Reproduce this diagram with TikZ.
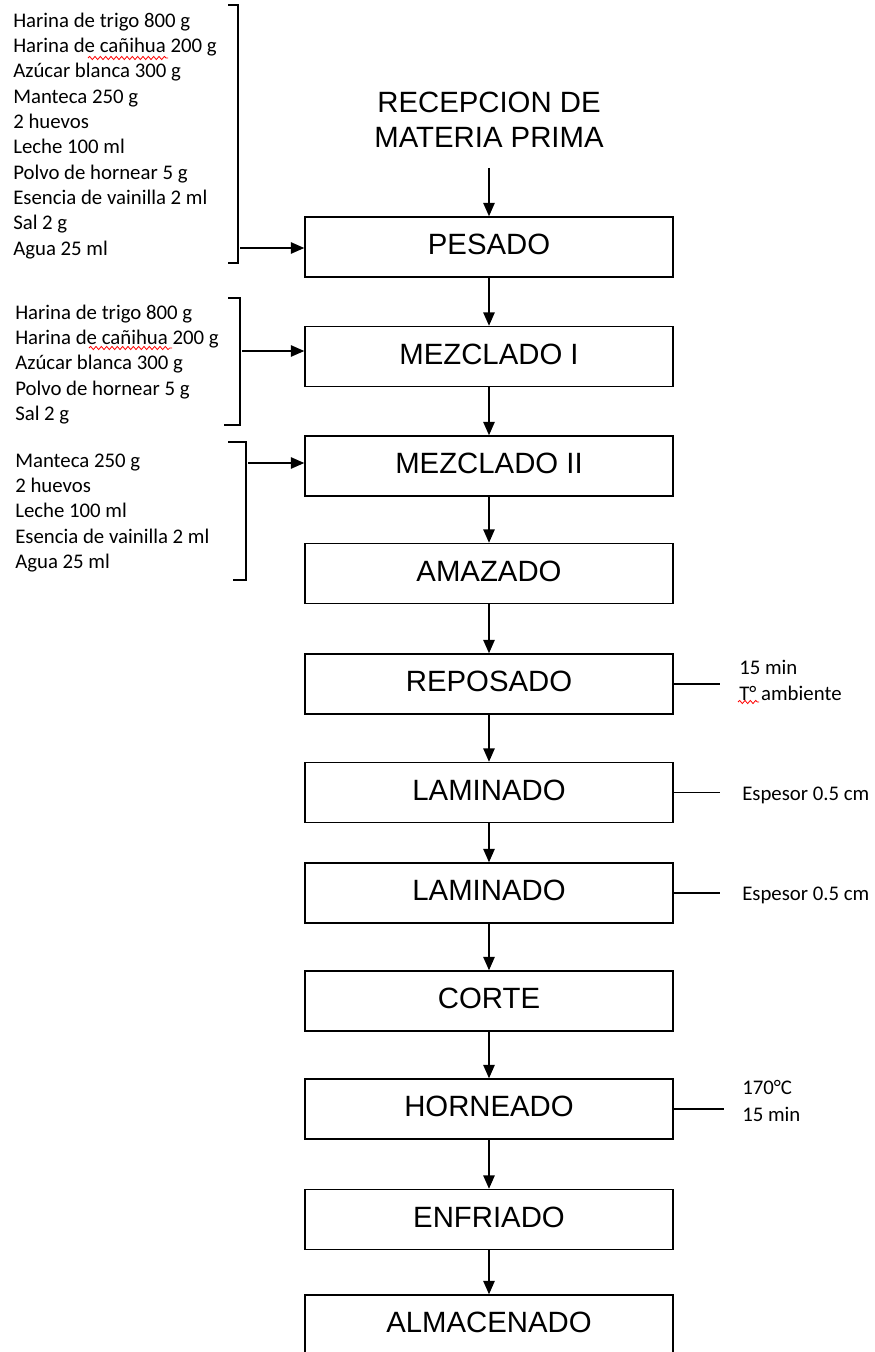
\documentclass[tikz,border=0pt]{standalone}
\usepackage{fontspec}
\setmainfont{Liberation Sans}
\newfontfamily\calibri{Carlito}
\usetikzlibrary{arrows.meta,decorations.pathmorphing}

\tikzset{
    lista/.style={anchor=north west,align=left,inner sep=0pt,font=\calibri\fontsize{15.6}{19}\selectfont},
    nota/.style={align=left,inner sep=0pt,font=\calibri\fontsize{15.6}{20}\selectfont},
    llave/.style={line width=0.8pt},
    corrector/.style={draw=red,line width=0.6pt,decorate,decoration={snake,amplitude=1.2pt,segment length=4pt}}
}

\begin{document}
\begin{tikzpicture}[x=0.75pt,y=-0.75pt]
    \useasboundingbox (0,0) rectangle (874,1352);

        \node[align=center,inner sep=0pt,font=\fontsize{22}{26}\selectfont] (0) at (489,120) {RECEPCION DE\\MATERIA PRIMA};

        \begin{scope}[every node/.style={draw,line width=1.1pt,minimum width=276pt,minimum height=45pt,inner sep=0pt,text depth=4pt,font=\fontsize{22}{26}\selectfont}]
            \node (1) at (489,247) {PESADO};
            \node (2) at (489,356.5) {MEZCLADO I};
            \node (3) at (489,466) {MEZCLADO II};
            \node (4) at (489,573.5) {AMAZADO};
            \node (5) at (489,684) {REPOSADO};
            \node (6) at (489,792.5) {LAMINADO};
            \node (7) at (489,893) {LAMINADO};
            \node (8) at (489,1001) {CORTE};
            \node (9) at (489,1109) {HORNEADO};
            \node (10) at (489,1219.5) {ENFRIADO};
            \node (11) at (489,1325) {ALMACENADO};
        \end{scope}

        % ingredientes
        \node[lista] (ing1) at (13,12.5) {Harina de trigo 800 g\\Harina de cañihua 200 g\\Azúcar blanca 300 g\\Manteca 250 g\\2 huevos\\Leche 100 ml\\Polvo de hornear 5 g\\Esencia de vainilla 2 ml\\Sal 2 g\\Agua 25 ml};
        \node[lista] (ing2) at (15,304.5) {Harina de trigo 800 g\\Harina de cañihua 200 g\\Azúcar blanca 300 g\\Polvo de hornear 5 g\\Sal 2 g};
        \node[lista] (ing3) at (15,453.5) {Manteca 250 g\\2 huevos\\Leche 100 ml\\Esencia de vainilla 2 ml\\Agua 25 ml};

        \draw[llave] (228,5) -- (238,5) -- (238,263) -- (228,263);
        \draw[llave] (228,298) -- (240,298) -- (240,425) -- (224,425);
        \draw[llave] (228,442) -- (246,442) -- (246,580) -- (233,580);

        \coordinate (l1) at (240,248);
        \coordinate (l2) at (242,351);
        \coordinate (l3) at (248,463);

        \draw[corrector] (88,58) -- (168,58);
        \draw[corrector] (89,348) -- (172,348);

        % condiciones
        \node[nota,anchor=north west] (rep) at (739,659.5) {15 min\\T° ambiente};
        \node[nota,anchor=base west] (lam1) at (742,800) {Espesor 0.5 cm};
        \node[nota,anchor=base west] (lam2) at (742,900) {Espesor 0.5 cm};
        \node[nota,anchor=north west] (hor) at (742,1080.5) {170°C\\15 min};
        \draw[corrector] (738,702) -- (759,702);

        \begin{scope}[every edge/.style={draw,line width=1.1pt,-{Triangle[length=10pt,width=8.5pt]}}]
            \path (0) edge [shorten <=15pt] (1);
            \path (1) edge (2);
            \path (2) edge (3);
            \path (3) edge (4);
            \path (4) edge (5);
            \path (5) edge (6);
            \path (6) edge (7);
            \path (7) edge (8);
            \path (8) edge (9);
            \path (9) edge (10);
            \path (10) edge (11);

            \path (l1) edge (l1 -| 1.west);
            \path (l2) edge (l2 -| 2.west);
            \path (l3) edge (l3 -| 3.west);
        \end{scope}

        \begin{scope}[line width=0.8pt]
            \draw (5.east) -- ++(46,0);
            \draw (6.east) -- ++(46,0);
            \draw (7.east) -- ++(46,0);
            \draw (9.east) -- ++(50,0);
        \end{scope}

\end{tikzpicture}
\end{document}
